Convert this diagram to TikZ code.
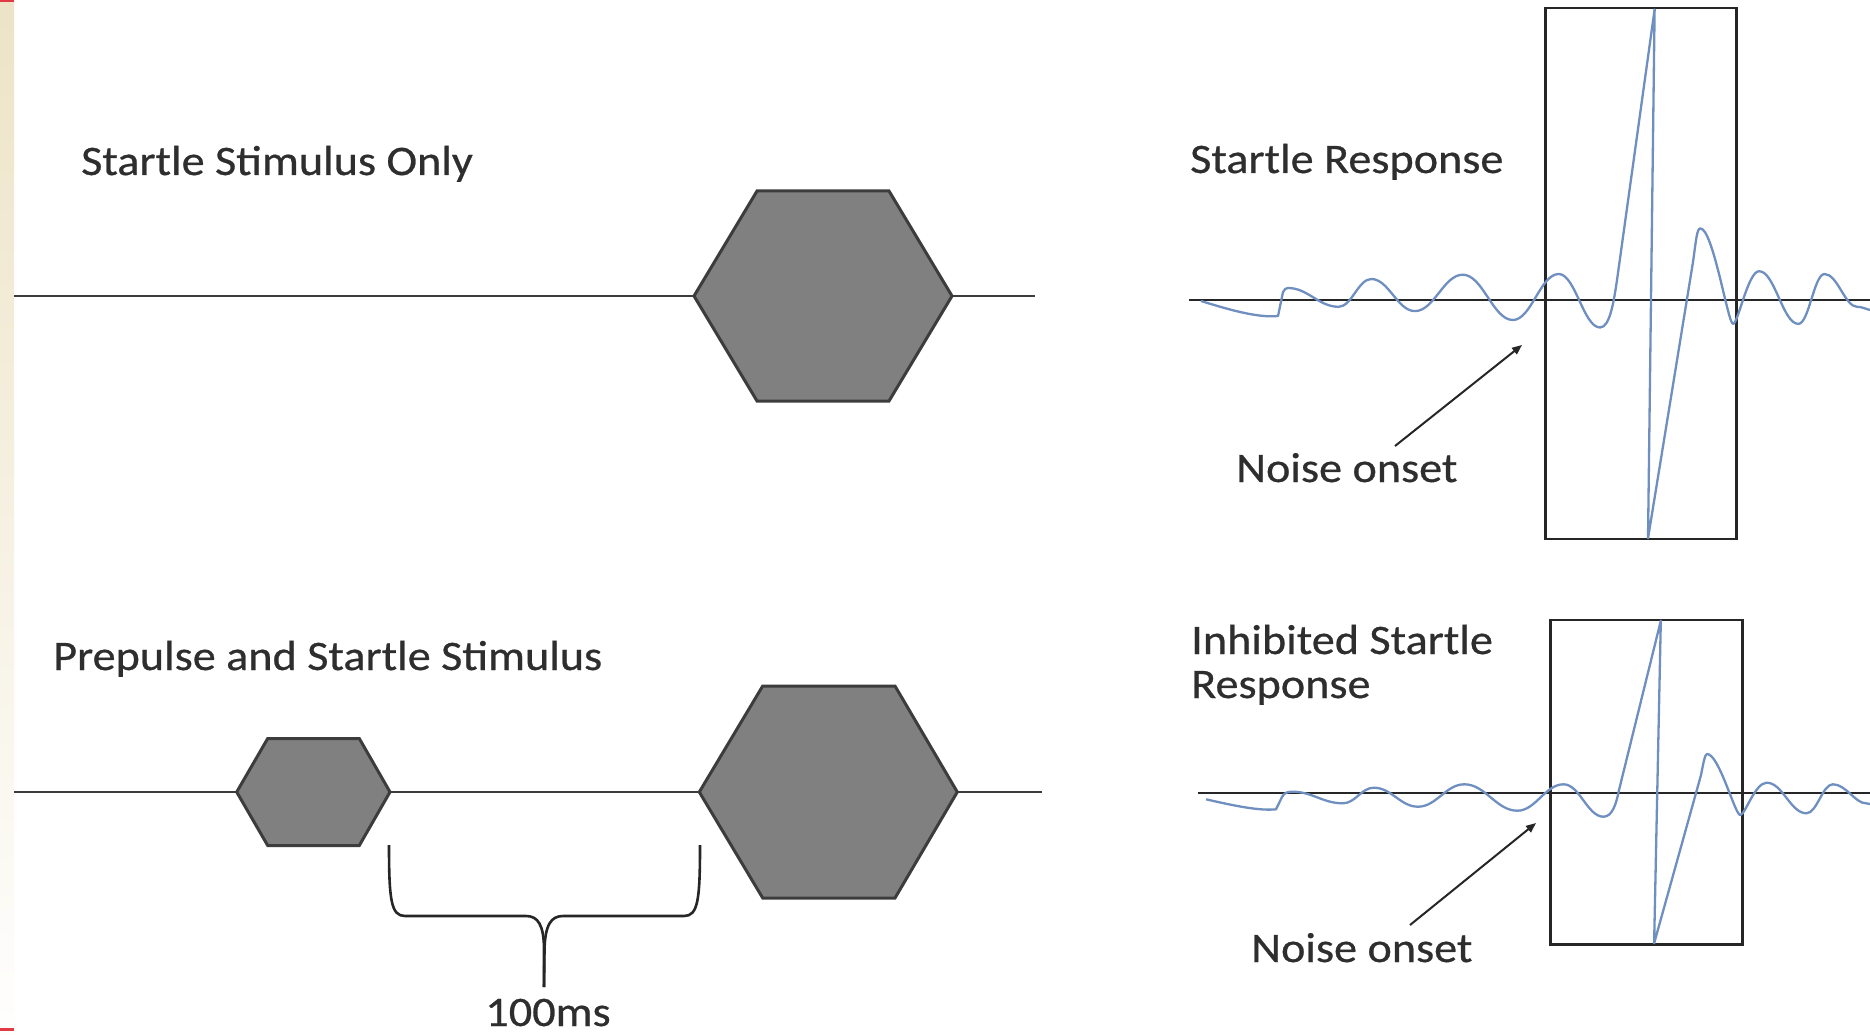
\documentclass[tikz,border=0pt]{standalone}
\usepackage{fontspec}
\setmainfont[FakeStretch=1.1,FakeBold=0.6]{Carlito}
\usetikzlibrary{arrows.meta}
\definecolor{txt}{HTML}{2E2E2E}
\definecolor{linegray}{HTML}{3C3C3C}
\definecolor{hexfill}{HTML}{808080}
\definecolor{wavecol}{HTML}{6F8FC0}
\definecolor{beige}{HTML}{EDE3C6}
\definecolor{markred}{HTML}{E23A44}
\begin{document}
\begin{tikzpicture}[x=1pt,y=-1pt,
  lbl/.style={font=\fontsize{42}{50}\selectfont, text=txt, inner sep=0pt, anchor=base west},
  tline/.style={draw=linegray, line width=2.8pt},
  hexa/.style={draw=linegray, fill=hexfill, line width=3pt, line join=miter},
  axisln/.style={draw=black!85, line width=2.6pt},
  boxln/.style={draw=black!85, line width=2.4pt},
  wave/.style={draw=wavecol, line width=2.3pt, line join=round},
  pointer/.style={draw=black!85, line width=2pt, -{Triangle[length=10pt,width=8pt]}},
  bracestyle/.style={draw=black!85, line width=2.6pt}
]
\useasboundingbox (0,0) rectangle (1870,1035);
\fill[white] (0,0) rectangle (1870,1035);
% left strip
\shade[top color=beige, bottom color=white!97!beige] (0,0) rectangle (14,1035);
\fill[markred] (0,0) rectangle (14,2.5);
\fill[markred] (0,1028) rectangle (14,1031);

% ---------- Left top: startle stimulus only ----------
\node[lbl] (t1) at (81,175) {Startle Stimulus Only};
\coordinate (a1) at (14,296);
\coordinate (a1e) at (1035,296);
\coordinate (h1L) at (694,296);
\coordinate (h1TL) at (757,191);
\coordinate (h1TR) at (889,191);
\coordinate (h1R) at (952,296);
\coordinate (h1BR) at (889,401);
\coordinate (h1BL) at (757,401);
\draw[tline] (a1) -- (h1L);
\draw[tline] (h1R) -- (a1e);
\draw[hexa] (h1L) -- (h1TL) -- (h1TR) -- (h1R) -- (h1BR) -- (h1BL) -- cycle;

% ---------- Left bottom: prepulse and startle ----------
\node[lbl] (t2) at (53,670) {Prepulse and Startle Stimulus};
\coordinate (a2) at (14,792);
\coordinate (a2e) at (1042,792);
\coordinate (pL) at (236.7,792);
\coordinate (pTL) at (267.7,738.5);
\coordinate (pTR) at (359.3,738.5);
\coordinate (pR) at (390,792);
\coordinate (pBR) at (359.3,845.5);
\coordinate (pBL) at (267.7,845.5);
\coordinate (h2L) at (699.3,792);
\coordinate (h2TL) at (762.7,686);
\coordinate (h2TR) at (895,686);
\coordinate (h2R) at (957.3,792);
\coordinate (h2BR) at (895,898);
\coordinate (h2BL) at (762.7,898);
\draw[tline] (a2) -- (pL);
\draw[tline] (pR) -- (h2L);
\draw[tline] (h2R) -- (a2e);
\draw[hexa] (pL) -- (pTL) -- (pTR) -- (pR) -- (pBR) -- (pBL) -- cycle;
\draw[hexa] (h2L) -- (h2TL) -- (h2TR) -- (h2R) -- (h2BR) -- (h2BL) -- cycle;

% brace
\coordinate (bL) at (389,845);
\coordinate (bR) at (700,845);
\coordinate (bT) at (544,987);
\draw[bracestyle] (bL) .. controls (389,900) and (391,916) .. (405,916) -- (526,916)
   .. controls (538,916) and (544,925) .. (544,950) -- (bT);
\draw[bracestyle] (bR) .. controls (700,900) and (698,916) .. (684,916) -- (563,916)
   .. controls (551,916) and (545,925) .. (544.5,950) -- (bT);
\node[lbl, anchor=base] (ms) at (548,1026) {100ms};

% ---------- Right top: startle response ----------
\node[lbl] (t3) at (1190,173) {Startle Response};
\coordinate (x1s) at (1189,300);
\coordinate (x1e) at (1870,300);
\draw[boxln] (1545.6,8.3) rectangle (1736.5,539);
\draw[axisln] (x1s) -- (x1e);
\draw[wave] (1201,301) .. controls (1230,310) and (1258,318) .. (1278,316)
  -- (1283,292) .. controls (1284.5,289) and (1286,288) .. (1288,288)
  .. controls (1308,288) and (1318.6,306.8) .. (1338.6,306.8)
  .. controls (1351.6,306.8) and (1358.3,279) .. (1371.3,279)
  .. controls (1388.7,279) and (1397.5,311.1) .. (1414.9,311.1)
  .. controls (1434.1,311.1) and (1443.6,274.7) .. (1462.8,274.7)
  .. controls (1482.8,274.7) and (1492.9,320) .. (1512.9,320)
  .. controls (1531.2,320) and (1540.4,274) .. (1558.7,274)
  .. controls (1575.3,274) and (1583.5,327.5) .. (1600.1,327.5)
  .. controls (1610,327.5) and (1614,300) .. (1617,280)
  -- (1654.6,9.4) -- (1648,538.3) -- (1693,262)
  .. controls (1696,240) and (1697,228.4) .. (1700.3,228.4)
  .. controls (1713,228.4) and (1728,323.9) .. (1733,323.9)
  .. controls (1738,323.9) and (1748,271.2) .. (1759.1,271.2)
  .. controls (1774.8,271.2) and (1782.7,323.9) .. (1798.4,323.9)
  .. controls (1808.8,323.9) and (1814.1,274) .. (1824.5,274)
  .. controls (1837.5,274) and (1845,306.8) .. (1857,306.8)
  .. controls (1862,306.8) and (1866,309) .. (1870,310);
\node[lbl] (n1) at (1236,482) {Noise onset};
\coordinate (n1s) at (1395,446);
\coordinate (n1t) at (1522,345);
\draw[pointer] (n1s) -- (n1t);

% ---------- Right bottom: inhibited startle response ----------
\node[lbl] (t4) at (1191,654) {Inhibited Startle};
\node[lbl] (t4b) at (1191,698) {Response};
\coordinate (x2s) at (1198,793);
\coordinate (x2e) at (1870,793);
\draw[boxln] (1550.4,620.2) rectangle (1742.4,944.5);
\draw[axisln] (x2s) -- (x2e);
\draw[wave] (1206.1,799.3) .. controls (1235,806) and (1260,811) .. (1276,809.3)
  -- (1282,797) .. controls (1284,793) and (1287,791.7) .. (1292.2,791.7)
  .. controls (1312.5,791.7) and (1322.6,803.3) .. (1342.9,803.3)
  .. controls (1355.3,803.3) and (1361.4,787.7) .. (1373.8,787.7)
  .. controls (1391.5,787.7) and (1400.3,806.7) .. (1418,806.7)
  .. controls (1436.5,806.7) and (1445.8,784.3) .. (1464.3,784.3)
  .. controls (1485.5,784.3) and (1496.1,810.7) .. (1517.3,810.7)
  .. controls (1535.8,810.7) and (1545.1,784.3) .. (1563.6,784.3)
  .. controls (1579.5,784.3) and (1587.5,816.7) .. (1603.4,816.7)
  .. controls (1612,816.7) and (1616,805) .. (1619,790)
  -- (1660.8,620.7) -- (1654.1,943.3) -- (1701,775)
  .. controls (1703.5,762) and (1705,754) .. (1707.1,754)
  .. controls (1719,754) and (1735,815) .. (1740.2,815)
  .. controls (1745,815) and (1755,782.7) .. (1766.7,782.7)
  .. controls (1782.6,782.7) and (1790.5,813.3) .. (1806.4,813.3)
  .. controls (1817,813.3) and (1822.3,784.3) .. (1832.9,784.3)
  .. controls (1846,784.3) and (1855,803.3) .. (1866,803.3)
  -- (1870,804);
\node[lbl] (n2) at (1251,962) {Noise onset};
\coordinate (n2s) at (1410,925);
\coordinate (n2t) at (1536,823);
\draw[pointer] (n2s) -- (n2t);
\end{tikzpicture}
\end{document}
